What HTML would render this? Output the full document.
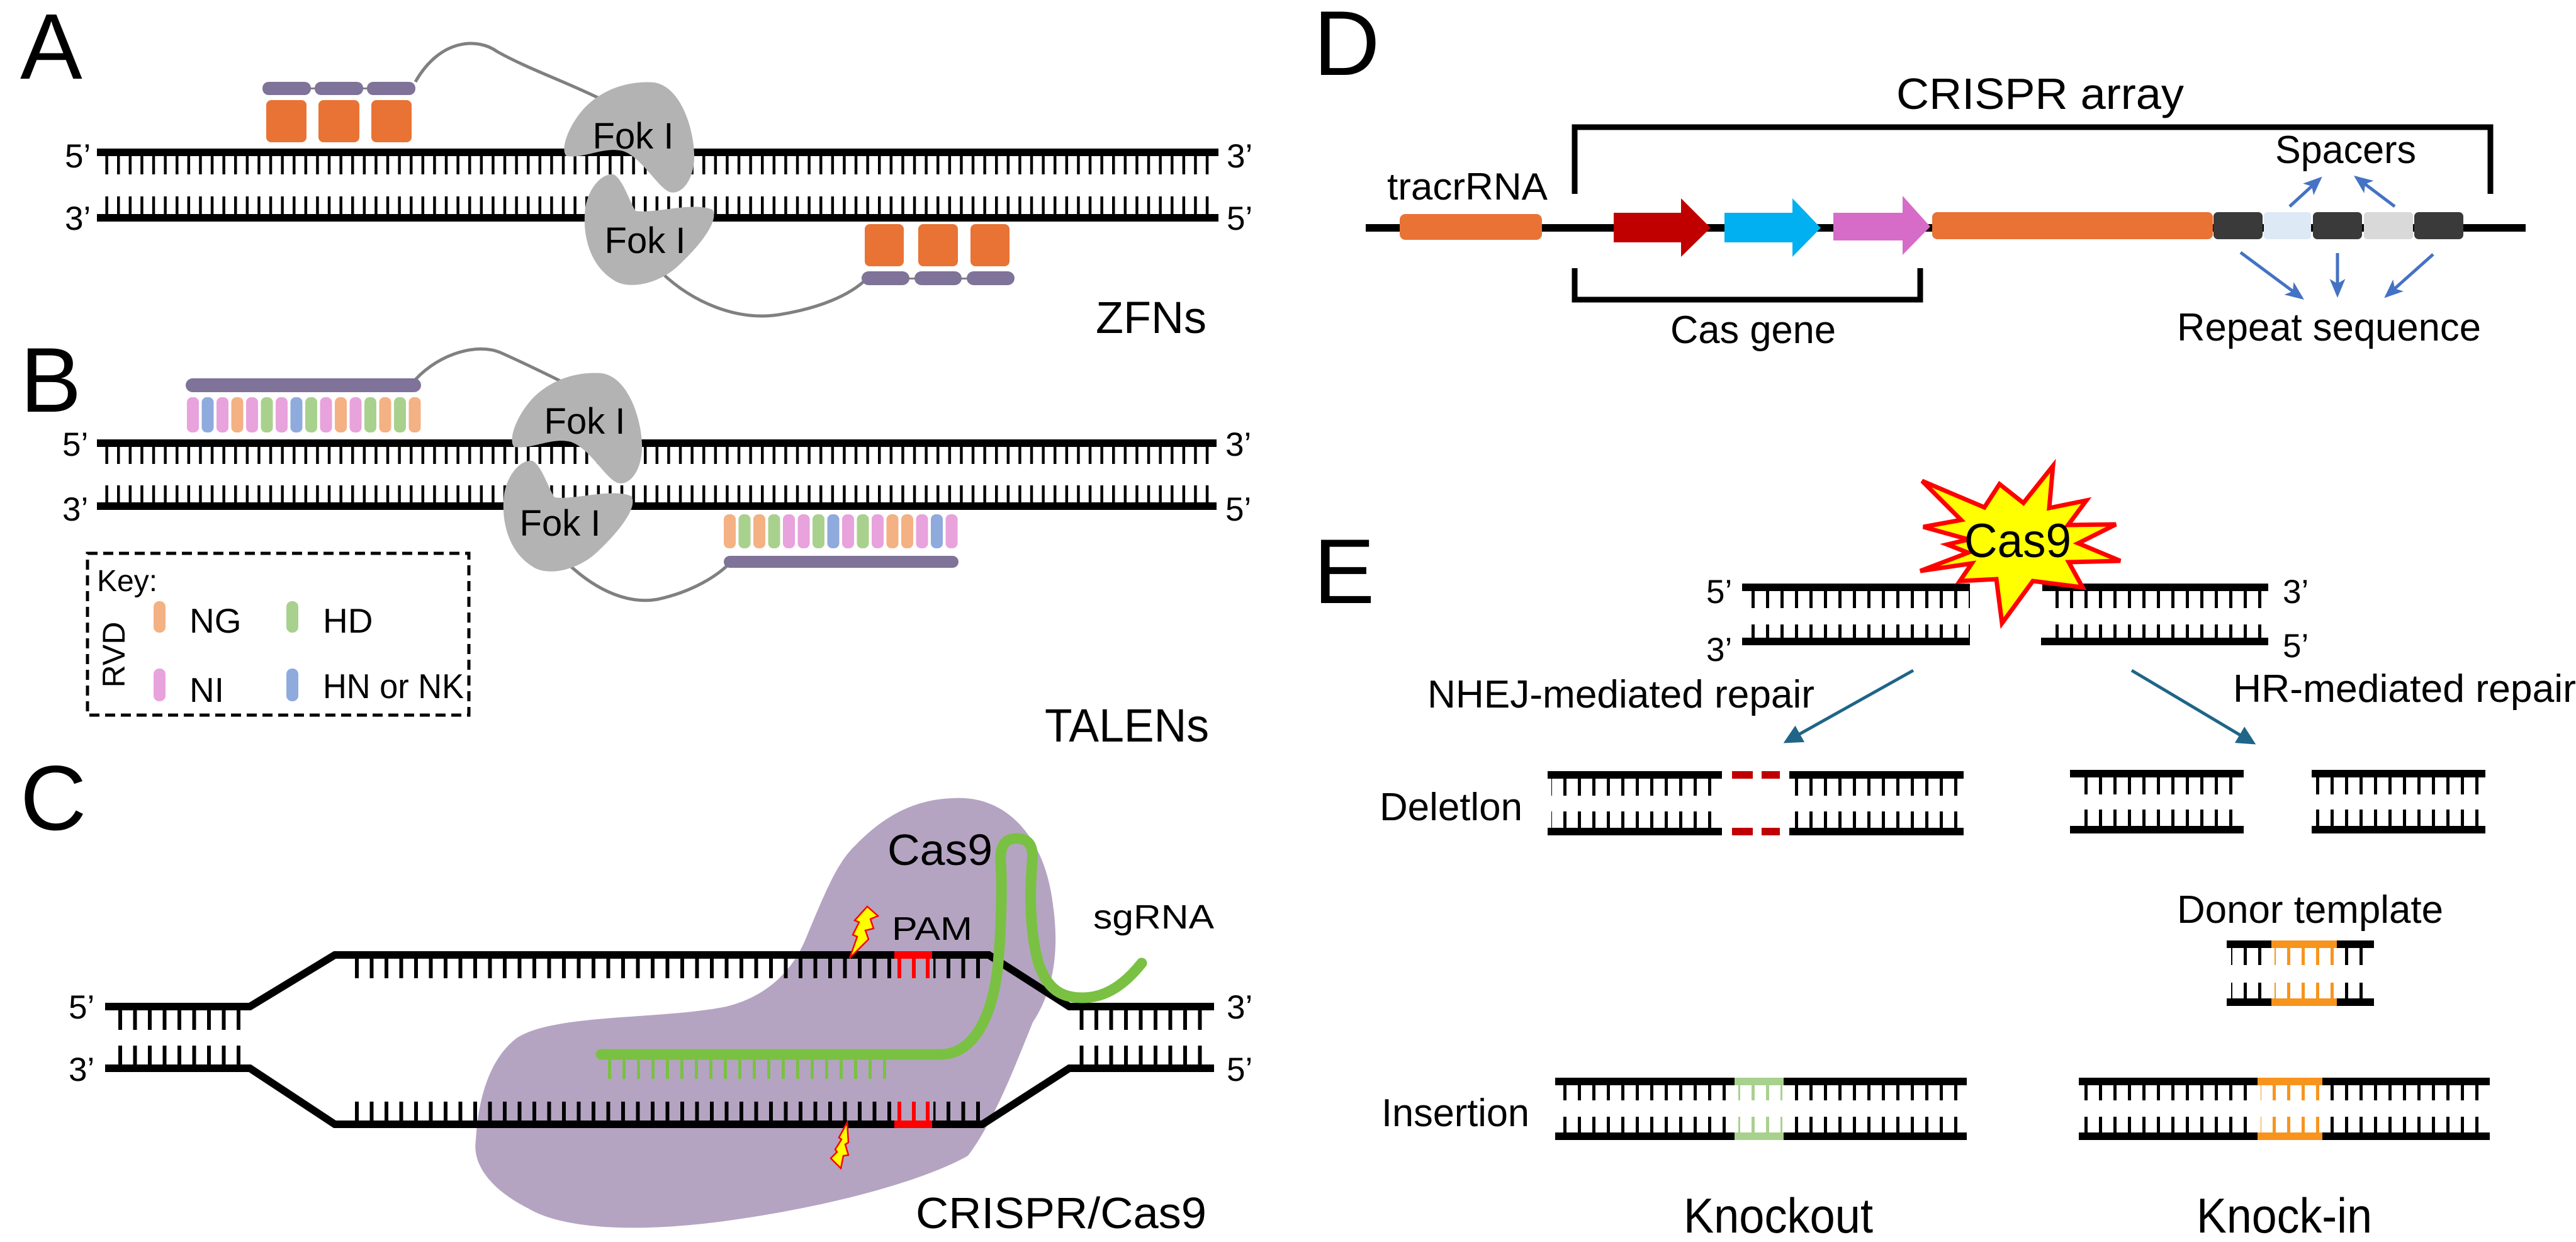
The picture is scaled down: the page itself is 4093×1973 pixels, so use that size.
<!DOCTYPE html>
<html><head><meta charset="utf-8"><style>
html,body{margin:0;padding:0;background:#fff;}
svg{display:block;}
text{font-family:"Liberation Sans",Arial,sans-serif;fill:#000;}
</style></head><body>
<svg width="4093" height="1973" viewBox="0 0 4093 1973" xmlns="http://www.w3.org/2000/svg">
<defs>
<pattern id="tA" patternUnits="userSpaceOnUse" width="18.6" height="10"><rect x="0" y="0" width="4.5" height="10" fill="#000"/></pattern>
<pattern id="tC" patternUnits="userSpaceOnUse" width="23.5" height="10"><rect x="0" y="0" width="6" height="10" fill="#000"/></pattern>
<pattern id="tG" patternUnits="userSpaceOnUse" width="23" height="10"><rect x="0" y="0" width="5" height="10" fill="#7ac143"/></pattern>
<pattern id="tE" patternUnits="userSpaceOnUse" width="23" height="10"><rect x="0" y="0" width="5" height="10" fill="#000"/></pattern>
<pattern id="tO" patternUnits="userSpaceOnUse" width="23" height="10"><rect x="0" y="0" width="5" height="10" fill="#f7941d"/></pattern>
<pattern id="tL" patternUnits="userSpaceOnUse" width="23" height="10"><rect x="0" y="0" width="5" height="10" fill="#a9d18e"/></pattern>
<marker id="mT" markerWidth="6" markerHeight="6" refX="5" refY="3" orient="auto" markerUnits="strokeWidth"><path d="M0,0 L6,3 L0,6 Z" fill="#1e6588"/></marker>
<marker id="mB" markerWidth="6" markerHeight="6" refX="5" refY="3" orient="auto" markerUnits="strokeWidth"><path d="M0,0.5 L6,3 L0,5.5 L1.5,3 Z" fill="#4472c4"/></marker>
<path id="fokT" d="M1040 131 C1090 140 1108 230 1102 262 C1098 292 1080 310 1064 305 C1045 298 1020 250 990 240 C960 232 930 252 900 248 C890 238 902 200 930 170 C960 140 1000 128 1040 131 Z"/>
<path id="fokB" d="M975 277 C990 285 1000 320 1010 335 C1040 340 1100 320 1132 333 C1142 348 1120 382 1080 420 C1050 450 1000 462 975 445 C935 420 925 370 930 330 C935 300 955 275 975 277 Z"/>
</defs>

<!-- ===== Panel A ===== -->
<text x="32" y="125" font-size="148">A</text>
<path d="M660 130 C700 60 760 60 790 82 C840 110 900 130 960 160" fill="none" stroke="#808080" stroke-width="5"/>
<path d="M1051 433 C1100 480 1170 510 1237 500 C1300 490 1350 470 1378 442" fill="none" stroke="#808080" stroke-width="5"/>
<rect x="154" y="236" width="1782" height="12" fill="#000"/>
<rect x="160" y="248" width="1768" height="29" fill="url(#tA)"/>
<rect x="160" y="312" width="1768" height="29" fill="url(#tA)"/>
<rect x="154" y="340" width="1782" height="12" fill="#000"/>
<rect x="480" y="139" width="120" height="3" fill="#808080"/>
<rect x="417" y="130" width="77" height="21" rx="10" fill="#7f7399"/>
<rect x="500" y="130" width="77" height="21" rx="10" fill="#7f7399"/>
<rect x="583" y="130" width="77" height="21" rx="10" fill="#7f7399"/>
<rect x="423" y="159" width="64" height="67" rx="8" fill="#e97334"/>
<rect x="506" y="159" width="65" height="67" rx="8" fill="#e97334"/>
<rect x="590" y="159" width="64" height="67" rx="8" fill="#e97334"/>
<rect x="1369" y="441" width="240" height="3" fill="#808080"/>
<rect x="1369" y="431" width="76" height="22" rx="11" fill="#7f7399"/>
<rect x="1453" y="431" width="75" height="22" rx="11" fill="#7f7399"/>
<rect x="1536" y="431" width="76" height="22" rx="11" fill="#7f7399"/>
<rect x="1374" y="356" width="62" height="67" rx="8" fill="#e97334"/>
<rect x="1459" y="356" width="63" height="67" rx="8" fill="#e97334"/>
<rect x="1542" y="356" width="62" height="67" rx="8" fill="#e97334"/>
<use href="#fokT" fill="#b3b3b3"/>
<use href="#fokB" fill="#b3b3b3"/>
<text x="1006" y="236" font-size="58" text-anchor="middle">Fok I</text>
<text x="1025" y="402" font-size="58" text-anchor="middle">Fok I</text>
<text x="103" y="266" font-size="53">5’</text>
<text x="103" y="365" font-size="53">3’</text>
<text x="1949" y="266" font-size="53">3’</text>
<text x="1949" y="365" font-size="53">5’</text>
<text x="1741" y="529" font-size="71" textLength="176" lengthAdjust="spacingAndGlyphs">ZFNs</text>

<!-- ===== Panel B ===== -->
<text x="32" y="654" font-size="146">B</text>
<path d="M660 603 C700 560 760 545 795 560 C840 580 880 600 904 612" fill="none" stroke="#808080" stroke-width="5"/>
<path d="M904 897 C950 940 1000 960 1045 952 C1100 940 1140 915 1160 894" fill="none" stroke="#808080" stroke-width="5"/>
<rect x="295" y="601" width="374" height="22" rx="11" fill="#7f7399"/>
<g>
<rect x="297" y="631" width="19" height="56" rx="8" fill="#e8a2dc"/>
<rect x="320.5" y="631" width="19" height="56" rx="8" fill="#8faadc"/>
<rect x="344" y="631" width="19" height="56" rx="8" fill="#e8a2dc"/>
<rect x="367.5" y="631" width="19" height="56" rx="8" fill="#f4b183"/>
<rect x="391" y="631" width="19" height="56" rx="8" fill="#e8a2dc"/>
<rect x="414.5" y="631" width="19" height="56" rx="8" fill="#a9d18e"/>
<rect x="438" y="631" width="19" height="56" rx="8" fill="#e8a2dc"/>
<rect x="461.5" y="631" width="19" height="56" rx="8" fill="#8faadc"/>
<rect x="485" y="631" width="19" height="56" rx="8" fill="#a9d18e"/>
<rect x="508.5" y="631" width="19" height="56" rx="8" fill="#e8a2dc"/>
<rect x="532" y="631" width="19" height="56" rx="8" fill="#f4b183"/>
<rect x="555.5" y="631" width="19" height="56" rx="8" fill="#e8a2dc"/>
<rect x="579" y="631" width="19" height="56" rx="8" fill="#a9d18e"/>
<rect x="602.5" y="631" width="19" height="56" rx="8" fill="#f4b183"/>
<rect x="626" y="631" width="19" height="56" rx="8" fill="#a9d18e"/>
<rect x="649.5" y="631" width="19" height="56" rx="8" fill="#f4b183"/>
</g>
<rect x="154" y="698" width="1779" height="12" fill="#000"/>
<rect x="160" y="710" width="1768" height="27" fill="url(#tA)"/>
<rect x="160" y="771" width="1768" height="28" fill="url(#tA)"/>
<rect x="154" y="798" width="1779" height="12" fill="#000"/>
<g>
<rect x="1150" y="817" width="19" height="54" rx="8" fill="#f4b183"/>
<rect x="1173.5" y="817" width="19" height="54" rx="8" fill="#a9d18e"/>
<rect x="1197" y="817" width="19" height="54" rx="8" fill="#f4b183"/>
<rect x="1220.5" y="817" width="19" height="54" rx="8" fill="#a9d18e"/>
<rect x="1244" y="817" width="19" height="54" rx="8" fill="#e8a2dc"/>
<rect x="1267.5" y="817" width="19" height="54" rx="8" fill="#e8a2dc"/>
<rect x="1291" y="817" width="19" height="54" rx="8" fill="#a9d18e"/>
<rect x="1314.5" y="817" width="19" height="54" rx="8" fill="#8faadc"/>
<rect x="1338" y="817" width="19" height="54" rx="8" fill="#e8a2dc"/>
<rect x="1361.5" y="817" width="19" height="54" rx="8" fill="#a9d18e"/>
<rect x="1385" y="817" width="19" height="54" rx="8" fill="#e8a2dc"/>
<rect x="1408.5" y="817" width="19" height="54" rx="8" fill="#f4b183"/>
<rect x="1432" y="817" width="19" height="54" rx="8" fill="#f4b183"/>
<rect x="1455.5" y="817" width="19" height="54" rx="8" fill="#e8a2dc"/>
<rect x="1479" y="817" width="19" height="54" rx="8" fill="#8faadc"/>
<rect x="1502.5" y="817" width="19" height="54" rx="8" fill="#e8a2dc"/>
</g>
<rect x="1150" y="883" width="373" height="19" rx="9.5" fill="#7f7399"/>
<use href="#fokT" transform="translate(-83,462)" fill="#b3b3b3"/>
<use href="#fokB" transform="translate(-129,455)" fill="#b3b3b3"/>
<text x="929" y="689" font-size="58" text-anchor="middle">Fok I</text>
<text x="890" y="851" font-size="58" text-anchor="middle">Fok I</text>
<text x="99" y="724" font-size="53">5’</text>
<text x="99" y="827" font-size="53">3’</text>
<text x="1947" y="724" font-size="53">3’</text>
<text x="1947" y="827" font-size="53">5’</text>
<rect x="139" y="879" width="606" height="257" fill="none" stroke="#000" stroke-width="5" stroke-dasharray="16,9"/>
<text x="154" y="939" font-size="48">Key:</text>
<rect x="244" y="955" width="19" height="50" rx="9" fill="#f4b183"/>
<rect x="455" y="955" width="19" height="50" rx="9" fill="#a9d18e"/>
<rect x="244" y="1062" width="19" height="52" rx="9" fill="#e8a2dc"/>
<rect x="455" y="1062" width="19" height="52" rx="9" fill="#8faadc"/>
<text x="301" y="1005" font-size="55">NG</text>
<text x="513" y="1005" font-size="55">HD</text>
<text x="301" y="1115" font-size="55">NI</text>
<text x="513" y="1109" font-size="55" textLength="224" lengthAdjust="spacingAndGlyphs">HN or NK</text>
<text transform="translate(198,1040) rotate(-90)" font-size="50" text-anchor="middle">RVD</text>
<text x="1660" y="1178" font-size="74" textLength="261" lengthAdjust="spacingAndGlyphs">TALENs</text>

<!-- ===== Panel C ===== -->
<text x="32" y="1318" font-size="146">C</text>
<path d="M1513 1268 C1600 1262 1660 1330 1673 1437 C1685 1520 1670 1580 1641 1624 C1610 1700 1580 1780 1538 1836 C1460 1880 1300 1920 1150 1940 C1000 1960 890 1950 840 1920 C780 1890 750 1850 756 1811 C760 1740 780 1680 821 1649 C880 1610 1050 1620 1154 1599 C1230 1580 1265 1530 1282 1487 C1310 1420 1330 1370 1359 1343 C1410 1290 1460 1270 1513 1268 Z" fill="#b4a4c2"/>
<polyline points="167,1599 397,1599 532,1517 1571,1517 1699,1599 1929,1599" fill="none" stroke="#000" stroke-width="12" stroke-linejoin="miter"/>
<polyline points="167,1697 397,1697 532,1786 1561,1786 1699,1697 1929,1697" fill="none" stroke="#000" stroke-width="12" stroke-linejoin="miter"/>
<rect x="173" y="1605" width="222" height="31" fill="url(#tC)"/>
<rect x="558" y="1523" width="1004" height="31" fill="url(#tC)"/>
<rect x="1712" y="1605" width="200" height="31" fill="url(#tC)"/>
<rect x="173" y="1661" width="222" height="31" fill="url(#tC)"/>
<rect x="558" y="1750" width="1004" height="31" fill="url(#tC)"/>
<rect x="1712" y="1661" width="200" height="31" fill="url(#tC)"/>
<rect x="1421" y="1511" width="60" height="12" fill="#ff0000"/>
<rect x="1421" y="1523" width="62" height="32" fill="#b4a4c2"/>
<rect x="1426" y="1523" width="6" height="31" fill="#ff0000"/>
<rect x="1449" y="1523" width="6" height="31" fill="#ff0000"/>
<rect x="1471" y="1523" width="6" height="31" fill="#ff0000"/>
<rect x="1421" y="1780" width="60" height="12" fill="#ff0000"/>
<rect x="1421" y="1749" width="62" height="31" fill="#b4a4c2"/>
<rect x="1426" y="1750" width="6" height="31" fill="#ff0000"/>
<rect x="1449" y="1750" width="6" height="31" fill="#ff0000"/>
<rect x="1471" y="1750" width="6" height="31" fill="#ff0000"/>
<rect x="960" y="1683" width="455" height="31" fill="url(#tG)"/>
<path d="M955 1675 L1494 1675 C1545 1675 1575 1620 1585 1540 C1592 1470 1592 1400 1590 1370 C1588 1340 1600 1332 1615 1332 C1632 1332 1643 1340 1640 1370 C1636 1420 1636 1480 1650 1530 C1665 1575 1690 1585 1720 1585 C1760 1585 1790 1560 1814 1530" fill="none" stroke="#7ac143" stroke-width="17" stroke-linecap="round" stroke-linejoin="round"/>
<polygon points="1378,1440 1395,1455 1383,1460 1388,1475 1375,1478 1380,1492 1350,1522 1362,1488 1355,1485 1365,1465 1358,1462" fill="#ffff00" stroke="#ff0000" stroke-width="2.5"/>
<polygon points="1346,1783 1348,1815 1343,1818 1348,1835 1340,1836 1336,1856 1320,1840 1330,1830 1327,1826 1337,1810 1333,1807" fill="#ffff00" stroke="#ff0000" stroke-width="2.5"/>
<text x="1410" y="1374" font-size="70" textLength="167" lengthAdjust="spacingAndGlyphs">Cas9</text>
<text x="1417" y="1493" font-size="52" textLength="128" lengthAdjust="spacingAndGlyphs">PAM</text>
<text x="1737" y="1475" font-size="54" textLength="192" lengthAdjust="spacingAndGlyphs">sgRNA</text>
<text x="109" y="1618" font-size="53">5’</text>
<text x="109" y="1717" font-size="53">3’</text>
<text x="1949" y="1618" font-size="53">3’</text>
<text x="1949" y="1717" font-size="53">5’</text>
<text x="1455" y="1951" font-size="70" textLength="462" lengthAdjust="spacingAndGlyphs">CRISPR/Cas9</text>

<!-- ===== Panel D ===== -->
<text x="2087" y="119" font-size="146">D</text>
<text x="3013" y="173" font-size="70" textLength="457" lengthAdjust="spacingAndGlyphs">CRISPR array</text>
<polyline points="2502,308 2502,202 3957,202 3957,308" fill="none" stroke="#000" stroke-width="9"/>
<rect x="2170" y="356" width="1843" height="12" fill="#000"/>
<rect x="2224" y="340" width="226" height="41" rx="9" fill="#e97334"/>
<text x="2204" y="317" font-size="60" textLength="255" lengthAdjust="spacingAndGlyphs">tracrRNA</text>
<polygon points="2564,338 2671,338 2671,315 2718,362 2671,408 2671,385 2564,385" fill="#c00000"/>
<polygon points="2740,338 2848,338 2848,315 2893,362 2848,408 2848,385 2740,385" fill="#00b0f0"/>
<polygon points="2913,338 3023,338 3023,311 3067,360 3023,405 3023,382 2913,382" fill="#d66cc8"/>
<rect x="3070" y="337" width="446" height="43" rx="8" fill="#e97334"/>
<rect x="3517" y="337" width="78" height="43" rx="7" fill="#3a3a3a"/>
<rect x="3597" y="337" width="75" height="43" rx="5" fill="#dde9f5"/>
<rect x="3675" y="337" width="78" height="43" rx="7" fill="#3a3a3a"/>
<rect x="3756" y="337" width="78" height="43" rx="5" fill="#d9d9d9"/>
<rect x="3836" y="337" width="78" height="43" rx="7" fill="#3a3a3a"/>
<text x="3615" y="259" font-size="62" textLength="224" lengthAdjust="spacingAndGlyphs">Spacers</text>
<g stroke="#4472c4" stroke-width="5" fill="none" marker-end="url(#mB)">
<line x1="3638" y1="328" x2="3686" y2="284"/>
<line x1="3805" y1="328" x2="3744" y2="282"/>
<line x1="3560" y1="401" x2="3657" y2="473"/>
<line x1="3714" y1="402" x2="3714" y2="468"/>
<line x1="3866" y1="404" x2="3792" y2="470"/>
</g>
<text x="3459" y="541" font-size="62" textLength="483" lengthAdjust="spacingAndGlyphs">Repeat sequence</text>
<polyline points="2502,426 2502,476 3051,476 3051,426" fill="none" stroke="#000" stroke-width="9"/>
<text x="2654" y="545" font-size="62" textLength="263" lengthAdjust="spacingAndGlyphs">Cas gene</text>

<!-- ===== Panel E ===== -->
<text x="2087" y="958" font-size="146">E</text>
<rect x="2768" y="927" width="362" height="12" fill="#000"/>
<rect x="3245" y="927" width="359" height="12" fill="#000"/>
<rect x="2772" y="939" width="358" height="27" fill="url(#tE)"/>
<rect x="3250" y="939" width="354" height="27" fill="url(#tE)"/>
<rect x="2772" y="992" width="358" height="22" fill="url(#tE)"/>
<rect x="3250" y="992" width="354" height="22" fill="url(#tE)"/>
<rect x="2768" y="1013" width="362" height="12" fill="#000"/>
<rect x="3243" y="1013" width="361" height="12" fill="#000"/>
<polygon points="3262,740 3256,807 3315,795 3286,834 3362,833 3302,863 3369,891 3287,893 3309,933 3230,923 3181,990 3172,920 3114,923 3133,895 3051,907 3127,878 3094,865 3128,857 3056,837 3116,826 3054,764 3153,806 3177,769 3215,799" fill="#ffff00" stroke="#ff0000" stroke-width="7" stroke-linejoin="miter"/>
<text x="3206" y="885" font-size="76" text-anchor="middle" textLength="170" lengthAdjust="spacingAndGlyphs">Cas9</text>
<text x="2711" y="958" font-size="53">5’</text>
<text x="2711" y="1050" font-size="53">3’</text>
<text x="3627" y="958" font-size="53">3’</text>
<text x="3627" y="1044" font-size="53">5’</text>
<line x1="3040" y1="1065" x2="2838" y2="1178" stroke="#1e6588" stroke-width="5" marker-end="url(#mT)"/>
<line x1="3387" y1="1065" x2="3580" y2="1180" stroke="#1e6588" stroke-width="5" marker-end="url(#mT)"/>
<text x="2268" y="1124" font-size="62" textLength="615" lengthAdjust="spacingAndGlyphs">NHEJ-mediated repair</text>
<text x="3548" y="1115" font-size="62" textLength="545" lengthAdjust="spacingAndGlyphs">HR-mediated repair</text>
<text x="2192" y="1303" font-size="62" textLength="227" lengthAdjust="spacingAndGlyphs">Deletlon</text>
<!-- deletion -->
<rect x="2459" y="1225" width="277" height="12" fill="#000"/>
<rect x="2843" y="1225" width="277" height="12" fill="#000"/>
<rect x="2465" y="1237" width="268" height="27" fill="url(#tE)"/>
<rect x="2850" y="1237" width="266" height="27" fill="url(#tE)"/>
<rect x="2465" y="1289" width="268" height="26" fill="url(#tE)"/>
<rect x="2850" y="1289" width="266" height="26" fill="url(#tE)"/>
<rect x="2459" y="1315" width="277" height="12" fill="#000"/>
<rect x="2843" y="1315" width="277" height="12" fill="#000"/>
<rect x="2752" y="1225" width="33" height="12" fill="#c00000"/>
<rect x="2799" y="1225" width="29" height="12" fill="#c00000"/>
<rect x="2752" y="1315" width="33" height="12" fill="#c00000"/>
<rect x="2799" y="1315" width="29" height="12" fill="#c00000"/>
<!-- HR cut -->
<rect x="3289" y="1223" width="276" height="12" fill="#000"/>
<rect x="3673" y="1223" width="276" height="12" fill="#000"/>
<rect x="3295" y="1235" width="266" height="27" fill="url(#tE)"/>
<rect x="3680" y="1235" width="266" height="27" fill="url(#tE)"/>
<rect x="3295" y="1286" width="266" height="26" fill="url(#tE)"/>
<rect x="3680" y="1286" width="266" height="26" fill="url(#tE)"/>
<rect x="3289" y="1312" width="276" height="12" fill="#000"/>
<rect x="3673" y="1312" width="276" height="12" fill="#000"/>
<!-- donor -->
<text x="3459" y="1466" font-size="62" textLength="423" lengthAdjust="spacingAndGlyphs">Donor template</text>
<rect x="3538" y="1494" width="234" height="12" fill="#000"/>
<rect x="3609" y="1494" width="104" height="12" fill="#f7941d"/>
<rect x="3545" y="1506" width="60" height="27" fill="url(#tE)"/>
<rect x="3614" y="1506" width="96" height="27" fill="url(#tO)"/>
<rect x="3720" y="1506" width="50" height="27" fill="url(#tE)"/>
<rect x="3545" y="1561" width="60" height="25" fill="url(#tE)"/>
<rect x="3614" y="1561" width="96" height="25" fill="url(#tO)"/>
<rect x="3720" y="1561" width="50" height="25" fill="url(#tE)"/>
<rect x="3538" y="1586" width="234" height="12" fill="#000"/>
<rect x="3609" y="1586" width="104" height="12" fill="#f7941d"/>
<!-- insertion -->
<text x="2195" y="1789" font-size="62" textLength="235" lengthAdjust="spacingAndGlyphs">Insertion</text>
<rect x="2471" y="1712" width="654" height="12" fill="#000"/>
<rect x="2756" y="1712" width="78" height="12" fill="#a9d18e"/>
<rect x="2478" y="1724" width="272" height="24" fill="url(#tE)"/>
<rect x="2762" y="1724" width="70" height="24" fill="url(#tL)"/>
<rect x="2838" y="1724" width="280" height="24" fill="url(#tE)"/>
<rect x="2478" y="1774" width="272" height="25" fill="url(#tE)"/>
<rect x="2762" y="1774" width="70" height="25" fill="url(#tL)"/>
<rect x="2838" y="1774" width="280" height="25" fill="url(#tE)"/>
<rect x="2471" y="1799" width="654" height="12" fill="#000"/>
<rect x="2756" y="1799" width="78" height="12" fill="#a9d18e"/>
<!-- knock-in -->
<rect x="3303" y="1712" width="653" height="12" fill="#000"/>
<rect x="3587" y="1712" width="103" height="12" fill="#f7941d"/>
<rect x="3310" y="1724" width="272" height="24" fill="url(#tE)"/>
<rect x="3592" y="1724" width="94" height="24" fill="url(#tO)"/>
<rect x="3694" y="1724" width="256" height="24" fill="url(#tE)"/>
<rect x="3310" y="1774" width="272" height="25" fill="url(#tE)"/>
<rect x="3592" y="1774" width="94" height="25" fill="url(#tO)"/>
<rect x="3694" y="1774" width="256" height="25" fill="url(#tE)"/>
<rect x="3303" y="1799" width="653" height="12" fill="#000"/>
<rect x="3587" y="1799" width="103" height="12" fill="#f7941d"/>
<text x="2675" y="1958" font-size="78" textLength="301" lengthAdjust="spacingAndGlyphs">Knockout</text>
<text x="3490" y="1958" font-size="78" textLength="279" lengthAdjust="spacingAndGlyphs">Knock-in</text>
</svg>
</body></html>
